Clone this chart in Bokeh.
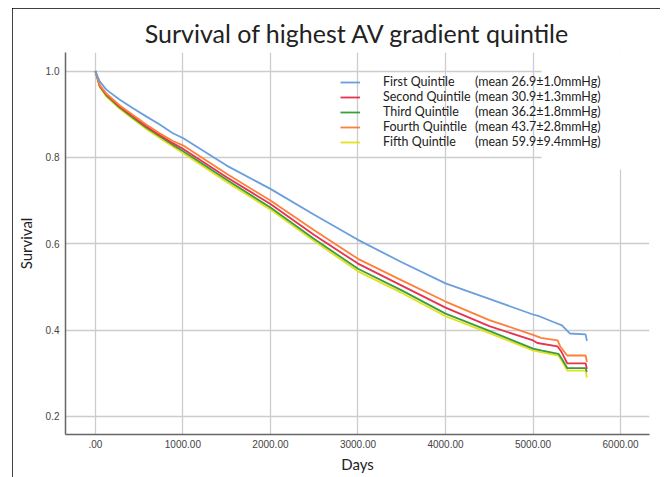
from bokeh.plotting import figure
from bokeh.models import (FixedTicker, Legend, LegendItem, Range1d, Title, BoxAnnotation)
from bokeh.embed import file_html
from bokeh.resources import INLINE

# ---------------- data ----------------
days_main = [0, 50, 125, 275, 430, 580, 735, 885, 1000, 1500, 2000, 2500,
             3000, 3500, 4000, 4500, 5000]

first_days = days_main + [5070, 5240, 5330, 5420, 5600, 5615]
first_surv = [1.0, 0.976, 0.957, 0.934, 0.914, 0.895, 0.876, 0.856, 0.845,
              0.781, 0.727, 0.667, 0.609, 0.557, 0.508, 0.472, 0.436,
              0.432, 0.418, 0.411, 0.392, 0.390, 0.375]

second_days = days_main + [5050, 5280, 5320, 5390, 5600, 5615]
second_surv = [1.0, 0.966, 0.946, 0.918, 0.895, 0.872, 0.852, 0.833, 0.820,
               0.754, 0.692, 0.620, 0.554, 0.503, 0.452, 0.409, 0.376,
               0.370, 0.362, 0.351, 0.323, 0.323, 0.310]

third_days = days_main + [5090, 5290, 5330, 5390, 5600, 5615]
third_surv = [1.0, 0.965, 0.944, 0.916, 0.892, 0.869, 0.849, 0.829, 0.815,
              0.748, 0.684, 0.611, 0.542, 0.492, 0.438, 0.398, 0.357,
              0.353, 0.345, 0.333, 0.312, 0.312, 0.303]

fourth_days = days_main + [5090, 5280, 5310, 5390, 5600, 5615]
fourth_surv = [1.0, 0.967, 0.948, 0.921, 0.898, 0.876, 0.856, 0.838, 0.828,
               0.762, 0.700, 0.631, 0.565, 0.515, 0.466, 0.423, 0.389,
               0.382, 0.376, 0.362, 0.341, 0.341, 0.326]

fifth_days = days_main + [5090, 5290, 5330, 5390, 5600, 5615]
fifth_surv = [1.0, 0.963, 0.941, 0.913, 0.889, 0.866, 0.845, 0.825, 0.810,
              0.743, 0.679, 0.606, 0.536, 0.486, 0.432, 0.393, 0.353,
              0.349, 0.341, 0.328, 0.306, 0.306, 0.290]

series_names = ["First Quintile", "Second Quintile", "Third Quintile",
                "Fourth Quintile", "Fifth Quintile"]
mean_texts = ["(mean 26.9\u00b11.0mmHg)", "(mean 30.9\u00b11.3mmHg)",
              "(mean 36.2\u00b11.8mmHg)", "(mean 43.7\u00b12.8mmHg)",
              "(mean 59.9\u00b19.4mmHg)"]

x_ticks = [0, 1000, 2000, 3000, 4000, 5000, 6000]
x_tick_labels = [".00", "1000.00", "2000.00", "3000.00", "4000.00",
                 "5000.00", "6000.00"]
y_ticks = [0.2, 0.4, 0.6, 0.8, 1.0]
y_tick_labels = ["0.2", "0.4", "0.6", "0.8", "1.0"]

# ---------------- styling ----------------
colors = ["#6a9fdc", "#e8324f", "#3c9d3c", "#ff7f3a", "#e3e01c"]
FONT = "Lato"

p = figure(width=648, height=469, output_backend="svg", toolbar_location=None,
           x_range=Range1d(-341, 6330), y_range=Range1d(0.158, 1.043),
           min_border_left=53, min_border_right=11, min_border_top=44,
           min_border_bottom=43)
p.margin = (8, 0, 0, 12)
p.styles = {"outline": "1px solid black", "outline-offset": "-1px"}
p.outline_line_color = None
p.background_fill_color = "white"
p.border_fill_color = "white"

title = Title(text="Survival of highest AV gradient quintile", align="center",
              text_font=FONT, text_font_size="25px", text_font_style="normal",
              text_color="#222222", offset=6, standoff=9)
p.add_layout(title, "above")

# axes
p.xaxis.ticker = FixedTicker(ticks=x_ticks)
p.xaxis.major_label_overrides = dict(zip(x_ticks, x_tick_labels))
p.yaxis.ticker = FixedTicker(ticks=y_ticks)
p.yaxis.major_label_overrides = dict(zip(y_ticks, y_tick_labels))
for ax in (p.xaxis[0], p.yaxis[0]):
    ax.axis_line_color = "#666666"
    ax.axis_line_width = 1.5
    ax.major_tick_line_color = None
    ax.minor_tick_line_color = None
    ax.major_tick_out = 0
    ax.major_tick_in = 0
    ax.minor_tick_out = 0
    ax.minor_tick_in = 0
    ax.major_label_text_font = "Liberation Sans"
    ax.major_label_text_font_size = "10px"
    ax.major_label_text_color = "#444444"
    ax.axis_label_text_font = FONT
    ax.axis_label_text_font_style = "normal"
    ax.axis_label_text_font_size = "15px"
    ax.axis_label_text_color = "#222222"
p.xaxis.axis_label = "Days"
p.yaxis.axis_label = "Survival"
p.xaxis.major_label_standoff = 5
p.xaxis.axis_label_standoff = 4
p.yaxis.major_label_standoff = 6
p.yaxis.axis_label_standoff = 8

p.xgrid.ticker = FixedTicker(ticks=x_ticks)
p.ygrid.ticker = FixedTicker(ticks=y_ticks)
for g in (p.xgrid[0], p.ygrid[0]):
    g.grid_line_color = "#cccccc"
    g.grid_line_width = 1.3

# blank patch over the upper-right grid (as in the source image)
p.add_layout(BoxAnnotation(left=5097, bottom=0.772, fill_color="white",
                           fill_alpha=1.0, line_color=None, level="underlay"))

# curves
all_days = [first_days, second_days, third_days, fourth_days, fifth_days]
all_surv = [first_surv, second_surv, third_surv, fourth_surv, fifth_surv]
renderers = [None] * 5
for i in [4, 2, 1, 3, 0]:
    renderers[i] = p.line(all_days[i], all_surv[i], line_color=colors[i],
                          line_width=1.8)

common = dict(padding=0, margin=0, spacing=-3, glyph_height=14, label_height=14,
              label_text_font=FONT, label_text_font_size="12.5px",
              label_text_line_height=1.0, label_text_color="#222222",
              background_fill_alpha=0, border_line_color=None)

legend = Legend(items=[LegendItem(label=series_names[i], renderers=[renderers[i]])
                       for i in range(5)],
                location=(275, 285), glyph_width=20, label_standoff=23, **common)
p.add_layout(legend, "center")

# second legend column: mean values (no icon)
legend2 = Legend(items=[LegendItem(label=mean_texts[i], renderers=[renderers[i]])
                        for i in range(5)],
                 location=(410, 285), glyph_width=0, label_standoff=0, **common)
p.add_layout(legend2, "center")

open("out.html", "w").write(file_html(p, INLINE))
